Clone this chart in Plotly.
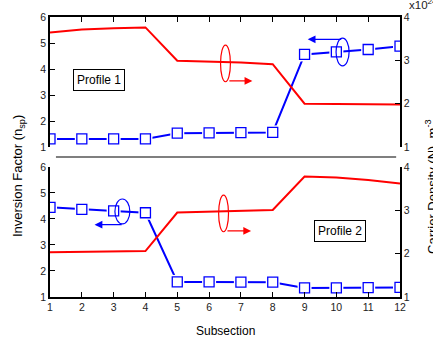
import plotly.graph_objects as go

# Subsection index along the device
subsection = list(range(1, 13))

# Profile 1: inversion factor (left axis) and carrier density x1e24 m^-3 (right axis)
p1_nsp = [1.31, 1.31, 1.31, 1.31, 1.53, 1.54, 1.55, 1.56, 4.56, 4.66, 4.75, 4.88]
p1_density = [3.64, 3.71, 3.74, 3.76, 2.99, 2.97, 2.95, 2.91, 2.00, 1.99, 1.99, 1.98]

# Profile 2
p2_nsp = [4.45, 4.37, 4.31, 4.24, 1.58, 1.58, 1.57, 1.57, 1.35, 1.35, 1.36, 1.37]
p2_density = [2.03, 2.04, 2.05, 2.06, 2.95, 2.97, 2.99, 3.01, 3.78, 3.76, 3.70, 3.62]

left_ticks = [1, 2, 3, 4, 5, 6]
right_ticks = [1, 2, 3, 4]

BLUE = "#0000ff"
RED = "#ff0000"
FONT = "Arial, Liberation Sans, sans-serif"

fig = go.Figure()


def add_nsp(xa, ya, values):
    # line, then a white halo so the line stops short of each marker, then the squares
    fig.add_trace(go.Scatter(x=subsection, y=values, xaxis=xa, yaxis=ya, mode="lines",
                             line=dict(color=BLUE, width=2), hoverinfo="skip"))
    fig.add_trace(go.Scatter(x=subsection, y=values, xaxis=xa, yaxis=ya, mode="markers",
                             marker=dict(symbol="square", size=14, color="white",
                                         line=dict(width=0)), hoverinfo="skip"))
    fig.add_trace(go.Scatter(x=subsection, y=values, xaxis=xa, yaxis=ya, mode="markers",
                             marker=dict(symbol="square", size=10, color="white",
                                         line=dict(color=BLUE, width=1.3)), hoverinfo="skip"))


def add_density(xa, ya, values):
    fig.add_trace(go.Scatter(x=subsection, y=values, xaxis=xa, yaxis=ya, mode="lines",
                             line=dict(color=RED, width=2), hoverinfo="skip"))


# top panel (Profile 1)
add_density("x2", "y4", p1_density)
add_nsp("x2", "y3", p1_nsp)
# bottom panel (Profile 2)
add_density("x", "y2", p2_density)
add_nsp("x", "y", p2_nsp)

axis_style = dict(showline=True, linecolor="black", linewidth=1.5, ticks="inside",
                  ticklen=5, tickwidth=1.3, tickcolor="black", showgrid=False,
                  zeroline=False, tickfont=dict(family=FONT, size=10.5, color="#222"))

bottom_dom = [0, 0.4643]
top_dom = [0.5357, 1]

fig.update_layout(
    width=433, height=345,
    margin=dict(l=50, r=33, t=17, b=48),
    paper_bgcolor="white", plot_bgcolor="white",
    showlegend=False,
    xaxis=dict(anchor="y", range=[1, 12], tickvals=subsection, **axis_style),
    xaxis2=dict(anchor="y3", side="top", matches="x", range=[1, 12], tickvals=subsection,
                showticklabels=False, **axis_style),
    yaxis=dict(domain=bottom_dom, anchor="x", range=[1, 6], tickvals=left_ticks, **axis_style),
    yaxis2=dict(overlaying="y", side="right", anchor="x", range=[1, 4],
                tickvals=right_ticks, **axis_style),
    yaxis3=dict(domain=top_dom, anchor="x2", range=[1, 6], tickvals=left_ticks, **axis_style),
    yaxis4=dict(overlaying="y3", side="right", anchor="x2", range=[1, 4],
                tickvals=right_ticks, **axis_style),
)

# separator between the two panels
fig.add_shape(type="line", xref="paper", yref="paper", x0=0.017, x1=0.989,
              y0=0.5, y1=0.5, line=dict(color="#555", width=1.5))

# ellipses marking which curve belongs to which axis
ellipses = [
    ("x2", "y3", 6.36, 6.67, 3.51, 4.92, RED),
    ("x2", "y3", 9.99, 10.40, 4.12, 5.19, BLUE),
    ("x", "y", 3.04, 3.51, 3.81, 4.77, BLUE),
    ("x", "y", 6.30, 6.61, 3.51, 4.92, RED),
]
for xr, yr, x0, x1, y0, y1, c in ellipses:
    fig.add_shape(type="circle", xref=xr, yref=yr, x0=x0, x1=x1, y0=y0, y1=y1,
                  line=dict(color=c, width=1.2))

# arrows pointing to the axis each curve uses
arrows = [
    ("x2", "y3", 6.59, 7.36, 3.54, RED),
    ("x2", "y3", 10.20, 9.10, 5.14, BLUE),
    ("x", "y", 3.30, 2.40, 3.78, BLUE),
    ("x", "y", 6.53, 7.32, 3.54, RED),
]
for xr, yr, xs, xe, yv, c in arrows:
    fig.add_annotation(xref=xr, yref=yr, axref=xr, ayref=yr, x=xe, y=yv, ax=xs, ay=yv,
                       text="", showarrow=True, arrowhead=2, arrowsize=1.2,
                       arrowwidth=1.3, arrowcolor=c)

# profile labels
for xr, yr, xv, yv, label in [("x2", "y3", 2.54, 3.58, "Profile 1"),
                              ("x", "y", 10.11, 3.54, "Profile 2")]:
    fig.add_annotation(xref=xr, yref=yr, x=xv, y=yv, text=label, showarrow=False,
                       font=dict(family=FONT, size=12, color="black"),
                       bordercolor="black", borderwidth=1, borderpad=3, bgcolor="white")

# axis titles
fig.add_annotation(xref="paper", yref="paper", x=-0.0914, y=0.432,
                   xanchor="center", yanchor="middle",
                   text="Inversion Factor (n<sub>sp</sub>)", textangle=-90, showarrow=False,
                   font=dict(family=FONT, size=13, color="black"))
fig.add_annotation(xref="paper", yref="paper", x=1.0886, y=0.393,
                   xanchor="center", yanchor="middle",
                   text="Carrier Density (N), m<sup>-3</sup>", textangle=-90, showarrow=False,
                   font=dict(family=FONT, size=13, color="black"))
fig.add_annotation(xref="paper", yref="paper", x=0.5, y=-0.1214,
                   xanchor="center", yanchor="middle",
                   text="Subsection", showarrow=False,
                   font=dict(family=FONT, size=12, color="black"))
fig.add_annotation(xref="paper", yref="paper", x=1.02, y=1.046,
                   xanchor="left", yanchor="middle",
                   text="x10<sup>24</sup>", showarrow=False,
                   font=dict(family=FONT, size=11.5, color="#222"))

fig.write_html("out.html")
